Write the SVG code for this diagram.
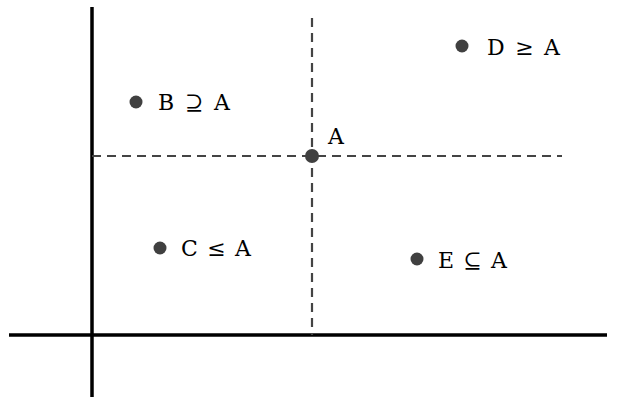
<svg xmlns="http://www.w3.org/2000/svg" width="621" height="397" viewBox="0 0 621 397">
<style>
.axis{stroke:#000;stroke-width:3.5;fill:none}
.dash{stroke:#444;stroke-width:2.2;stroke-dasharray:9 6;fill:none}
.pt{fill:#404040}
.lbl{font-family:"DejaVu Serif","Liberation Serif",serif;font-size:22px;fill:#000}
</style>
<rect width="621" height="397" fill="#fff"/>
<g id="connectors">
<line class="axis" x1="92" y1="7" x2="92" y2="397"/>
<line class="axis" x1="9" y1="335" x2="607" y2="335"/>
<line class="dash" x1="312" y1="18" x2="312" y2="335"/>
<line class="dash" x1="92" y1="156" x2="562" y2="156"/>
</g>
<g id="A"><circle class="pt" cx="312" cy="156" r="7"/><text class="lbl" x="328" y="144">A</text></g>
<g id="B"><circle class="pt" cx="136" cy="102" r="6.5"/><text class="lbl" x="158" y="110" textLength="72">B ⊇ A</text></g>
<g id="D"><circle class="pt" cx="462" cy="46" r="6.5"/><text class="lbl" x="487" y="55" textLength="73">D ≥ A</text></g>
<g id="C"><circle class="pt" cx="160" cy="248" r="6.5"/><text class="lbl" x="181" y="256" textLength="70">C ≤ A</text></g>
<g id="E"><circle class="pt" cx="417" cy="259" r="6.5"/><text class="lbl" x="438" y="268" textLength="69">E ⊆ A</text></g>
</svg>
